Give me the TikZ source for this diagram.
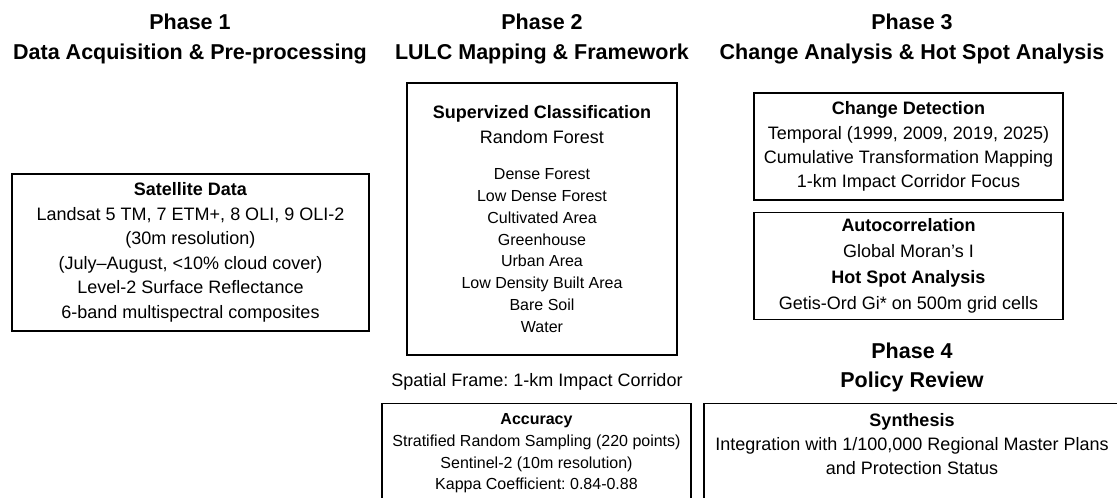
\documentclass[tikz,border=0pt]{standalone}
\usepackage{fontspec}
\setmainfont{Liberation Sans}
\usetikzlibrary{positioning}
\frenchspacing

\begin{document}
\begin{tikzpicture}[
  x=1pt, y=-1pt,
  phase/.style={font=\bfseries\fontsize{21.5}{29.5}\selectfont, align=center, inner sep=0pt},
  box/.style={draw, line width=1.3pt, align=center, inner sep=0pt, font=\fontsize{18}{24.4}\selectfont},
  cut box/.style={box, anchor=north, inner ysep=10pt, text depth=90pt},
  plain/.style={font=\fontsize{18}{22}\selectfont, inner sep=0pt}
]
\useasboundingbox (0,0) rectangle (1117,498);
\clip (0,0) rectangle (1117,498);

% phase headings
\node[phase] (phase1) at (190,38.8) {Phase 1\\Data Acquisition \& Pre-processing};
\node[phase] (phase2) at (542,38.8) {Phase 2\\LULC Mapping \& Framework};
\node[phase] (phase3) at (912,38.8) {Phase 3\\Change Analysis \& Hot Spot Analysis};
\node[phase] (phase4) at (912,367.5) {Phase 4\\Policy Review};

% phase 1
\node[box, minimum width=357pt, minimum height=157pt, font=\fontsize{18}{24.5}\selectfont] (satellite) at (190.5,252.5)
  {\textbf{Satellite Data}\\Landsat 5 TM, 7 ETM+, 8 OLI, 9 OLI-2\\(30m resolution)\\(July–August, <10\% cloud cover)\\Level-2 Surface Reflectance\\6-band multispectral composites};

% phase 2
\node[box, minimum width=270pt, minimum height=272pt, font=\fontsize{16}{21.8}\selectfont] (classif) at (542,219)
  {{\fontsize{18}{22}\selectfont\bfseries Supervized Classification}\\[3.2pt]{\fontsize{18}{22}\selectfont Random Forest}\\[14.2pt]
   Dense Forest\\Low Dense Forest\\Cultivated Area\\Greenhouse\\Urban Area\\Low Density Built Area\\Bare Soil\\Water};
\node[plain, anchor=base] (frame) at (537,386.7) {Spatial Frame: 1-km Impact Corridor};
\node[cut box, minimum width=309pt, font=\fontsize{16}{21.7}\selectfont] (accuracy) at (536.5,403)
  {\textbf{Accuracy}\\Stratified Random Sampling (220 points)\\Sentinel-2 (10m resolution)\\Kappa Coefficient: 0.84-0.88};

% phase 3
\node[box, minimum width=309pt, minimum height=107pt, font=\fontsize{18}{24.3}\selectfont] (change) at (908.5,146.5)
  {\textbf{Change Detection}\\Temporal (1999, 2009, 2019, 2025)\\Cumulative Transformation Mapping\\1-km Impact Corridor Focus};
\node[box, minimum width=309pt, minimum height=107pt, below=11pt of change] (autocorr)
  {\textbf{Autocorrelation}\\[1.3pt]Global Moran's I\\[1.3pt]\textbf{Hot Spot Analysis}\\[1.3pt]Getis-Ord Gi* on 500m grid cells};

% phase 4
\node[cut box, minimum width=416pt, font=\fontsize{18}{24}\selectfont] (synthesis) at (912,403)
  {\textbf{Synthesis}\\Integration with 1/100,000 Regional Master Plans\\and Protection Status};
\end{tikzpicture}
\end{document}
